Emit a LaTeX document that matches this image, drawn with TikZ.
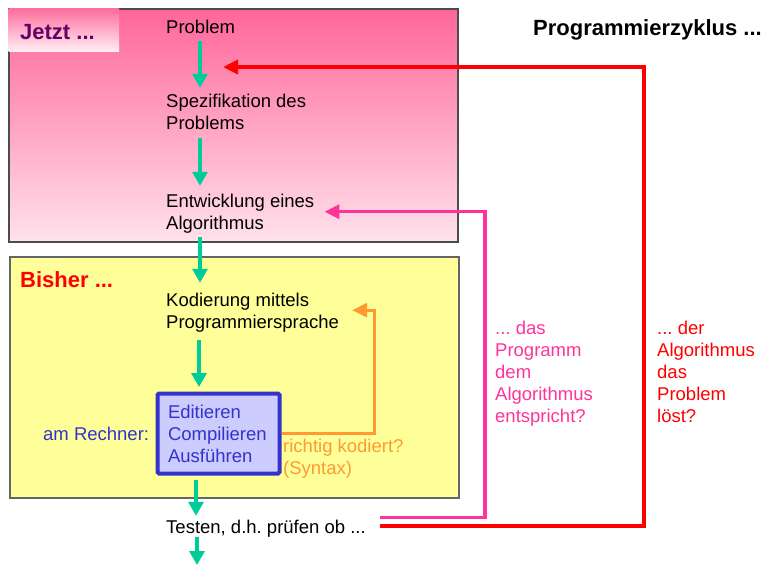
\documentclass[tikz,border=0pt]{standalone}
\usepackage{fontspec}
\setmainfont{Liberation Sans}
\frenchspacing
\usetikzlibrary{arrows.meta}
\definecolor{flowgreen}{RGB}{0,204,153}
\definecolor{rosetop}{RGB}{255,102,153}
\definecolor{rosebot}{RGB}{255,226,236}
\definecolor{paleyellow}{RGB}{255,255,153}
\definecolor{edgeblue}{RGB}{51,51,204}
\definecolor{paleblue}{RGB}{204,204,255}
\definecolor{loopred}{RGB}{255,0,0}
\definecolor{looppink}{RGB}{255,51,153}
\definecolor{looporange}{RGB}{255,153,51}
\definecolor{jetztpurple}{RGB}{102,0,102}

\begin{document}
\begin{tikzpicture}[x=1pt,y=-1pt,
  txt/.style={anchor=base west,inner sep=0pt,align=left,font=\fontsize{18.5}{22}\selectfont},
  head/.style={anchor=base west,inner sep=0pt,font=\fontsize{22}{26}\selectfont\bfseries},
  rbox/.style={draw=edgeblue,fill=paleblue,line width=4pt,rounded corners=1.5pt,text=edgeblue,
    align=left,text width=101pt,inner xsep=10.5pt,minimum height=80pt,font=\fontsize{18.5}{22}\selectfont},
  flow/.style={flowgreen,line width=3.3pt,-{Triangle[length=14pt,width=15pt]}},
  retour/.style={line width=#1,-{Triangle[length=15pt,width=14pt]}}]
  \useasboundingbox (0,0) rectangle (773,566);
  \shadedraw[top color=rosetop,bottom color=rosebot,draw=black!70,line width=1.2pt] (9,9) rectangle (458,242);
  \shade[top color=rosetop!95!white,bottom color=white!88!rosetop] (8.5,8.5) rectangle (119,51);
  \filldraw[fill=paleyellow,draw=black!60,line width=1.2pt] (10,257) rectangle (459,498);
  \node[head,jetztpurple] (jetzt) at (20,39) {Jetzt ...};
  \node[head,loopred] (bisher) at (20,287) {Bisher ...};
  \node[head] (zyklus) at (533,35) {Programmierzyklus ...};
  \node[txt] (prob) at (166,33) {Problem};
  \node[txt] (spez) at (166,129) {Spezifikation des\\Problems};
  \node[txt] (entw) at (166,229) {Entwicklung eines\\Algorithmus};
  \node[txt] (kod) at (166,328) {Kodierung mittels\\Programmiersprache};
  \node[rbox] (rech) at (218.5,433.5) {Editieren\\Compilieren\\Ausführen};
  \node[txt,edgeblue] (amr) at (43,440) {am Rechner:};
  \node[txt,looporange] (syntax) at (283,474) {richtig kodiert?\\(Syntax)};
  \node[txt] (test) at (166,533) {Testen, d.h. prüfen ob ...};
  \node[txt,looppink] (qprog) at (495,422) {... das\\Programm\\dem\\Algorithmus\\entspricht?};
  \node[txt,loopred] (qalgo) at (657,422) {... der\\Algorithmus\\das\\Problem\\löst?};
  \coordinate (probin) at (223,67);
  \coordinate (exit) at (197,565);
  \draw[flow] ([xshift=34pt,yshift=-8pt]prob.south west) -- ([xshift=34pt,yshift=5.6pt]spez.north west);
  \draw[flow] ([xshift=34pt,yshift=-9pt]spez.south west) -- ([xshift=34pt,yshift=7.6pt]entw.north west);
  \draw[flow] ([xshift=34pt,yshift=-4pt]entw.south west) -- ([xshift=34pt,yshift=9.6pt]kod.north west);
  \draw[flow] ([xshift=33pt,yshift=-8pt]kod.south west) -- ([xshift=-19.5pt,yshift=4.5pt]rech.north);
  \draw[flow] ([xshift=-22.5pt,yshift=-4.5pt]rech.south) -- ([xshift=30pt,yshift=3.6pt]test.north west);
  \draw[flow] ([xshift=31pt]test.south west) -- (exit);
  \draw[retour=3pt,looporange] (rech.east) -- ++(92.5,0) |- ([xshift=13pt,yshift=2pt]kod.east);
  \draw[retour=3.5pt,looppink] ([xshift=14pt,yshift=10.5pt]test.east) -- ++(105,0) |- ([xshift=10pt,yshift=1.5pt]entw.east);
  \draw[retour=4pt,loopred] ([xshift=14pt,yshift=2pt]test.east) -- ++(264,0) |- (probin);
\end{tikzpicture}
\end{document}
